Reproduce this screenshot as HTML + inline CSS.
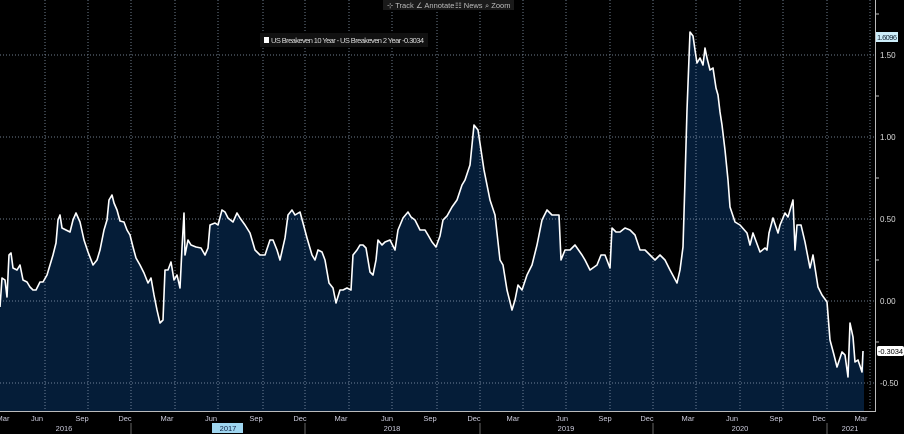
<!DOCTYPE html>
<html><head><meta charset="utf-8"><style>
html,body{margin:0;padding:0;background:#000;width:904px;height:434px;overflow:hidden}
svg{display:block;font-family:"Liberation Sans",sans-serif}
</style></head><body>
<svg width="904" height="434" viewBox="0 0 904 434" xmlns="http://www.w3.org/2000/svg">
<rect width="904" height="434" fill="#000"/>
<defs>
<clipPath id="c"><rect x="0" y="0" width="875" height="411"/></clipPath>
</defs>
<g clip-path="url(#c)">
<polygon fill="#051d38" points="0,411 0,307 2,278 5,280 7,297 9,255 11,253 13,268 17,270 20,265 23,280 27,282 30,287 33,290 36,290 40,282 43,282 47,275 50,265 53,255 56,243 58,220 60,215 62,228 66,230 70,232 73,220 76,213 80,222 84,240 88,252 93,265 97,260 100,250 104,230 107,220 109,200 112,195 114,203 117,210 120,221 124,222 127,230 130,235 133,247 136,258 140,265 144,273 148,283 151,278 154,295 157,310 160,323 163,320 165,270 168,270 171,262 174,280 177,275 180,288 182,248 184,213 185,255 188,240 191,245 196,247 201,248 205,255 208,248 210,225 215,223 218,225 222,210 225,212 228,218 233,222 237,213 240,218 245,225 250,233 255,250 260,255 265,255 270,240 273,240 277,250 280,260 285,238 288,215 292,210 295,215 300,212 303,223 307,238 312,255 315,260 318,250 322,252 325,260 329,283 333,288 336,303 340,290 343,290 347,288 351,290 353,255 357,250 360,245 363,245 366,248 370,272 373,275 376,260 378,240 382,245 385,242 390,240 395,250 398,230 403,218 408,212 411,217 415,220 420,230 425,230 428,235 432,242 436,247 440,236 443,220 447,216 452,207 457,200 462,185 465,180 470,165 474,125 478,130 481,150 484,170 490,200 495,215 500,260 503,265 507,290 512,310 515,300 518,285 522,290 527,275 532,265 537,245 542,220 547,210 552,215 556,215 559,215 561,260 565,250 570,250 575,245 582,255 585,260 590,270 597,265 601,255 605,255 610,268 612,228 616,232 620,232 625,228 630,230 635,235 640,250 645,250 650,255 655,260 660,255 665,260 670,270 677,283 680,270 683,247 685,180 687,110 690,32 693,36 695,50 697,63 700,58 703,65 705,48 707,58 710,70 713,68 716,88 718,95 720,112 722,125 725,150 728,180 730,207 735,222 740,225 747,233 750,245 753,233 760,252 765,248 767,250 769,233 773,218 778,233 780,225 785,213 788,217 793,200 795,250 797,225 801,225 805,242 810,268 813,255 818,287 822,295 827,302 830,340 834,355 837,367 842,352 845,355 848,377 850,323 853,337 855,362 858,360 862,372 863,351 864,351 864,411"/>
</g>
<g stroke="#8a9ab0" stroke-width="1" stroke-dasharray="1,2" opacity="0.8">
<line x1="0" y1="55" x2="875" y2="55"/>
<line x1="0" y1="137" x2="875" y2="137"/>
<line x1="0" y1="219" x2="875" y2="219"/>
<line x1="0" y1="301" x2="875" y2="301"/>
<line x1="0" y1="383" x2="875" y2="383"/>
<line x1="45" y1="0" x2="45" y2="411"/><line x1="88" y1="0" x2="88" y2="411"/><line x1="131" y1="0" x2="131" y2="411"/><line x1="175" y1="0" x2="175" y2="411"/><line x1="218" y1="0" x2="218" y2="411"/><line x1="263" y1="0" x2="263" y2="411"/><line x1="305" y1="0" x2="305" y2="411"/><line x1="349" y1="0" x2="349" y2="411"/><line x1="392" y1="0" x2="392" y2="411"/><line x1="437" y1="0" x2="437" y2="411"/><line x1="480" y1="0" x2="480" y2="411"/><line x1="523" y1="0" x2="523" y2="411"/><line x1="566" y1="0" x2="566" y2="411"/><line x1="610" y1="0" x2="610" y2="411"/><line x1="653" y1="0" x2="653" y2="411"/><line x1="696" y1="0" x2="696" y2="411"/><line x1="740" y1="0" x2="740" y2="411"/><line x1="783" y1="0" x2="783" y2="411"/><line x1="827" y1="0" x2="827" y2="411"/><line x1="870" y1="0" x2="870" y2="411"/>
</g>
<polyline fill="none" stroke="#fff" stroke-width="1.6" stroke-linejoin="round" points="0,307 2,278 5,280 7,297 9,255 11,253 13,268 17,270 20,265 23,280 27,282 30,287 33,290 36,290 40,282 43,282 47,275 50,265 53,255 56,243 58,220 60,215 62,228 66,230 70,232 73,220 76,213 80,222 84,240 88,252 93,265 97,260 100,250 104,230 107,220 109,200 112,195 114,203 117,210 120,221 124,222 127,230 130,235 133,247 136,258 140,265 144,273 148,283 151,278 154,295 157,310 160,323 163,320 165,270 168,270 171,262 174,280 177,275 180,288 182,248 184,213 185,255 188,240 191,245 196,247 201,248 205,255 208,248 210,225 215,223 218,225 222,210 225,212 228,218 233,222 237,213 240,218 245,225 250,233 255,250 260,255 265,255 270,240 273,240 277,250 280,260 285,238 288,215 292,210 295,215 300,212 303,223 307,238 312,255 315,260 318,250 322,252 325,260 329,283 333,288 336,303 340,290 343,290 347,288 351,290 353,255 357,250 360,245 363,245 366,248 370,272 373,275 376,260 378,240 382,245 385,242 390,240 395,250 398,230 403,218 408,212 411,217 415,220 420,230 425,230 428,235 432,242 436,247 440,236 443,220 447,216 452,207 457,200 462,185 465,180 470,165 474,125 478,130 481,150 484,170 490,200 495,215 500,260 503,265 507,290 512,310 515,300 518,285 522,290 527,275 532,265 537,245 542,220 547,210 552,215 556,215 559,215 561,260 565,250 570,250 575,245 582,255 585,260 590,270 597,265 601,255 605,255 610,268 612,228 616,232 620,232 625,228 630,230 635,235 640,250 645,250 650,255 655,260 660,255 665,260 670,270 677,283 680,270 683,247 685,180 687,110 690,32 693,36 695,50 697,63 700,58 703,65 705,48 707,58 710,70 713,68 716,88 718,95 720,112 722,125 725,150 728,180 730,207 735,222 740,225 747,233 750,245 753,233 760,252 765,248 767,250 769,233 773,218 778,233 780,225 785,213 788,217 793,200 795,250 797,225 801,225 805,242 810,268 813,255 818,287 822,295 827,302 830,340 834,355 837,367 842,352 845,355 848,377 850,323 853,337 855,362 858,360 862,372 863,351"/>
<line x1="0" y1="411.5" x2="876" y2="411.5" stroke="#bbb"/>
<line x1="875.5" y1="0" x2="875.5" y2="412" stroke="#bbb"/>
<g stroke="#bbb"><line x1="875" y1="14" x2="879" y2="14"/><line x1="875" y1="96" x2="879" y2="96"/><line x1="875" y1="178" x2="879" y2="178"/><line x1="875" y1="260" x2="879" y2="260"/><line x1="875" y1="342" x2="879" y2="342"/></g>
<g fill="#ddd" font-size="8">
<text x="880" y="58">1.50</text><text x="880" y="140">1.00</text><text x="880" y="222">0.50</text><text x="880" y="304">0.00</text><text x="880" y="386">-0.50</text>
</g>
<rect x="876" y="32" width="22" height="10" fill="#cdeefa"/>
<text x="877" y="40" font-size="7.5" fill="#123" textLength="20">1.6096</text>
<rect x="877" y="346" width="27" height="10" rx="2" fill="#fff"/>
<text x="878" y="354" font-size="7.5" fill="#000" textLength="25">-0.3034</text>
<g fill="#ccd" font-size="7.5" text-anchor="middle">
<text x="3" y="421">Mar</text><text x="37" y="421">Jun</text><text x="82" y="421">Sep</text><text x="125" y="421">Dec</text><text x="167" y="421">Mar</text><text x="211" y="421">Jun</text><text x="256" y="421">Sep</text><text x="300" y="421">Dec</text><text x="341" y="421">Mar</text><text x="387" y="421">Jun</text><text x="430" y="421">Sep</text><text x="474" y="421">Dec</text><text x="513" y="421">Mar</text><text x="562" y="421">Jun</text><text x="605" y="421">Sep</text><text x="647" y="421">Dec</text><text x="688" y="421">Mar</text><text x="732" y="421">Jun</text><text x="776" y="421">Sep</text><text x="819" y="421">Dec</text><text x="861" y="421">Mar</text>
</g>
<rect x="212" y="423" width="31" height="10" fill="#9fd6f0"/>
<g fill="#ccd" font-size="7.5" text-anchor="middle">
<text x="64" y="431">2016</text><text x="228" y="431" fill="#124">2017</text><text x="392" y="431">2018</text><text x="566" y="431">2019</text><text x="740" y="431">2020</text><text x="850" y="431">2021</text>
</g>
<g stroke="#666"><line x1="131" y1="423" x2="131" y2="434"/><line x1="305" y1="423" x2="305" y2="434"/><line x1="480" y1="423" x2="480" y2="434"/><line x1="653" y1="423" x2="653" y2="434"/><line x1="827" y1="423" x2="827" y2="434"/></g>
<rect x="260" y="33" width="168" height="14" fill="#111"/>
<rect x="264" y="37" width="5" height="6" fill="#fff"/>
<text x="271" y="43" font-size="7.5" fill="#ddd" textLength="153">US Breakeven 10 Year  - US Breakeven 2 Year  -0.3034</text>
<rect x="383" y="0" width="131" height="10" fill="#1a1a1a"/>
<g font-size="7.5" fill="#bbb"><text x="387" y="8">⊹ Track</text><text x="416" y="8">∠ Annotate</text><text x="455" y="8">☷ News</text><text x="485" y="8">⌕ Zoom</text></g>
</svg>
</body></html>
